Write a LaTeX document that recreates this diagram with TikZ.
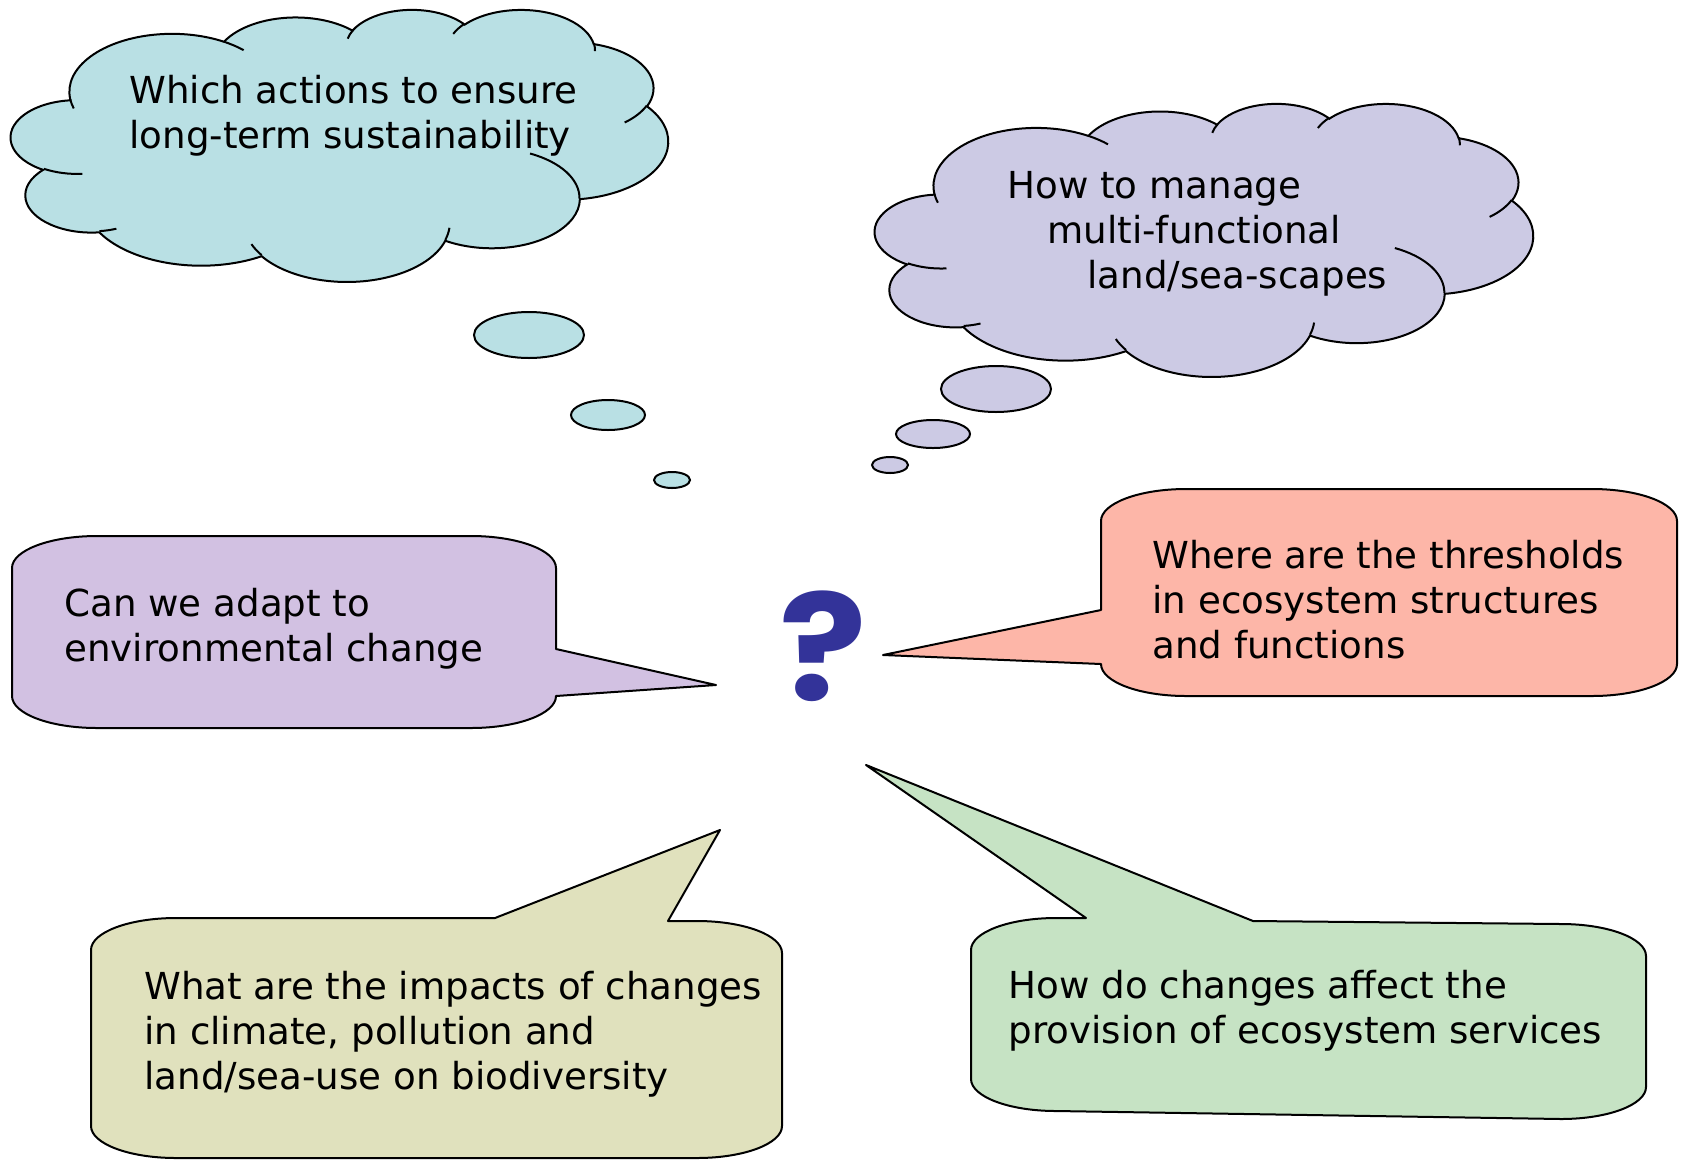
\documentclass[tikz,border=0pt]{standalone}
\usepackage{fontspec}
\setmainfont{DejaVu Sans}
\newfontfamily\qmarkfont{Poppins}

\definecolor{sustainfill}{HTML}{B9E0E4}
\definecolor{managefill}{HTML}{CCCAE4}
\definecolor{adaptfill}{HTML}{D2C1E2}
\definecolor{thresholdfill}{HTML}{FDB6A8}
\definecolor{impactfill}{HTML}{E0E1BD}
\definecolor{servicefill}{HTML}{C6E3C4}
\definecolor{qmarkblue}{HTML}{333399}

\begin{document}
\begin{tikzpicture}[x=0.5pt, y=-0.5pt,
	every node/.style={font=\fontsize{18.6}{22.5}\selectfont},
	question/.style={align=left, anchor=west, inner sep=0pt},
	thought/.style={draw=black, line width=1pt},
	bubble/.style={draw=black, line width=1pt},
	callout/.style={draw=black, line width=1pt, line join=round},
	boxcorner/.style={x radius=85, y radius=32, delta angle=90}]
	\useasboundingbox (0,0) rectangle (1684,1162);

	% thought clouds
	\foreach \cx/\cy/\sx/\sy/\col in {11/9/0.76042pt/0.31481pt/sustainfill, 875/103/0.76157pt/0.31597pt/managefill}{
		\begin{scope}[shift={(\cx,\cy)}, x=\sx, y=-\sy]
			\draw[thought, fill=\col] (39.00,143.70)
				arc[start angle=-187.74, end angle=-59.63, x radius=67.53, y radius=91.90]
				arc[start angle=-152.04, end angle=-45.46, x radius=53.33, y radius=72.67]
				arc[start angle=-153.49, end angle=-37.32, x radius=43.65, y radius=59.45]
				arc[start angle=-139.72, end angle=-10.21, x radius=48.57, y radius=65.95]
				arc[start angle=-74.77, end angle=23.21, x radius=53.33, y radius=72.73]
				arc[start angle=-37.52, end angle=81.86, x radius=67.75, y radius=92.20]
				arc[start angle=0.46, end angle=121.98, x radius=57.85, y radius=78.67]
				arc[start angle=16.84, end angle=146.22, x radius=67.52, y radius=92.15]
				arc[start angle=58.98, end angle=150.19, x radius=77.20, y radius=105.43]
				arc[start angle=83.31, end angle=223.11, x radius=43.60, y radius=59.18]
				arc[start angle=120.36, end angle=264.11, x radius=43.45, y radius=59.45] -- cycle;
			\draw[thought]
				(46.93,261.77) arc[start angle=85.55, end angle=120.36, x radius=43.45, y radius=59.45]
				(69.28,348.99) arc[start angle=68.23, end angle=83.31, x radius=43.60, y radius=59.18]
				(164.78,390.90) arc[start angle=146.22, end angle=158.47, x radius=67.52, y radius=92.15]
				(288.27,347.51) arc[start angle=4.74, end angle=16.84, x radius=67.52, y radius=92.15]
				(341.29,229.54) arc[start angle=-64.03, end angle=0.46, x radius=57.85, y radius=78.67]
				(417.98,153.54) arc[start angle=23.21, end angle=49.64, x radius=53.33, y radius=72.73]
				(383.24,54.26) arc[start angle=-10.21, end angle=0.82, x radius=48.57, y radius=65.95]
				(290.78,39.52) arc[start angle=-156.29, end angle=-139.72, x radius=48.57, y radius=65.95]
				(221.41,47.20) arc[start angle=-167.73, end angle=-153.49, x radius=43.65, y radius=59.45]
				(140.00,51.92) arc[start angle=-59.63, end angle=-45.75, x radius=67.53, y radius=91.90]
				(41.27,157.89) arc[start angle=163.20, end angle=172.25, x radius=67.53, y radius=91.90];
		\end{scope}
	}
	\foreach \bx/\by/\rx/\ry/\col in {529/335/55/23/sustainfill, 608/415/37/15/sustainfill, 672/480/18/8/sustainfill,
		996/389/55/23/managefill, 933/434/37/14/managefill, 890/465/18/8/managefill}
		\draw[bubble, fill=\col] (\bx,\by) ellipse [x radius=\rx, y radius=\ry];

	% speech callouts
	\draw[callout, fill=adaptfill] (12,568) arc[boxcorner, start angle=180] -- (471,536) arc[boxcorner, start angle=270]
		-- (556,649) -- (716,685) -- (556,696) arc[boxcorner, start angle=0] -- (97,728) arc[boxcorner, start angle=90] -- cycle;
	\draw[callout, fill=thresholdfill] (1101,521) arc[boxcorner, start angle=180] -- (1592,489) arc[boxcorner, start angle=270]
		-- (1677,664) arc[boxcorner, start angle=0] -- (1186,696) arc[boxcorner, start angle=90]
		-- (883,655) -- (1101,610) -- cycle;
	\draw[callout, fill=impactfill] (91,950) arc[boxcorner, start angle=180] -- (495,918) -- (720,830) -- (668,921)
		-- (697,921) arc[boxcorner, start angle=270] -- (782,1126) arc[boxcorner, start angle=0]
		-- (176,1158) arc[boxcorner, start angle=90] -- cycle;
	\draw[callout, fill=servicefill] (971,950) arc[boxcorner, start angle=180] -- (1086,918) -- (866,765) -- (1253,921)
		-- (1561,924) arc[boxcorner, start angle=270] -- (1646,1087) arc[boxcorner, start angle=0]
		-- (1056,1111) arc[boxcorner, start angle=90] -- cycle;

	% texts
	\node[question] (sustain) at (129,116) {Which actions to ensure\\long-term sustainability};
	\node[question] (manage) at (1007,234) {How to manage\\\hspace*{20pt}multi-functional\\\hspace*{40pt}land/sea-scapes};
	\node[question] (adapt) at (64,629) {Can we adapt to\\environmental change};
	\node[question] (thresholds) at (1152,600) {Where are the thresholds\\in ecosystem structures\\and functions};
	\node[question] (impacts) at (144,1034) {What are the impacts of changes\\in climate, pollution and\\land/sea-use on biodiversity};
	\node[question] (services) at (1008,1011) {How do changes affect the\\provision of ecosystem services};
	\node[text=qmarkblue, font=\qmarkfont\fontsize{74}{74}\selectfont\bfseries, inner sep=0pt, xscale=1.1] (qmark) at (823,646) {?};
\end{tikzpicture}
\end{document}
